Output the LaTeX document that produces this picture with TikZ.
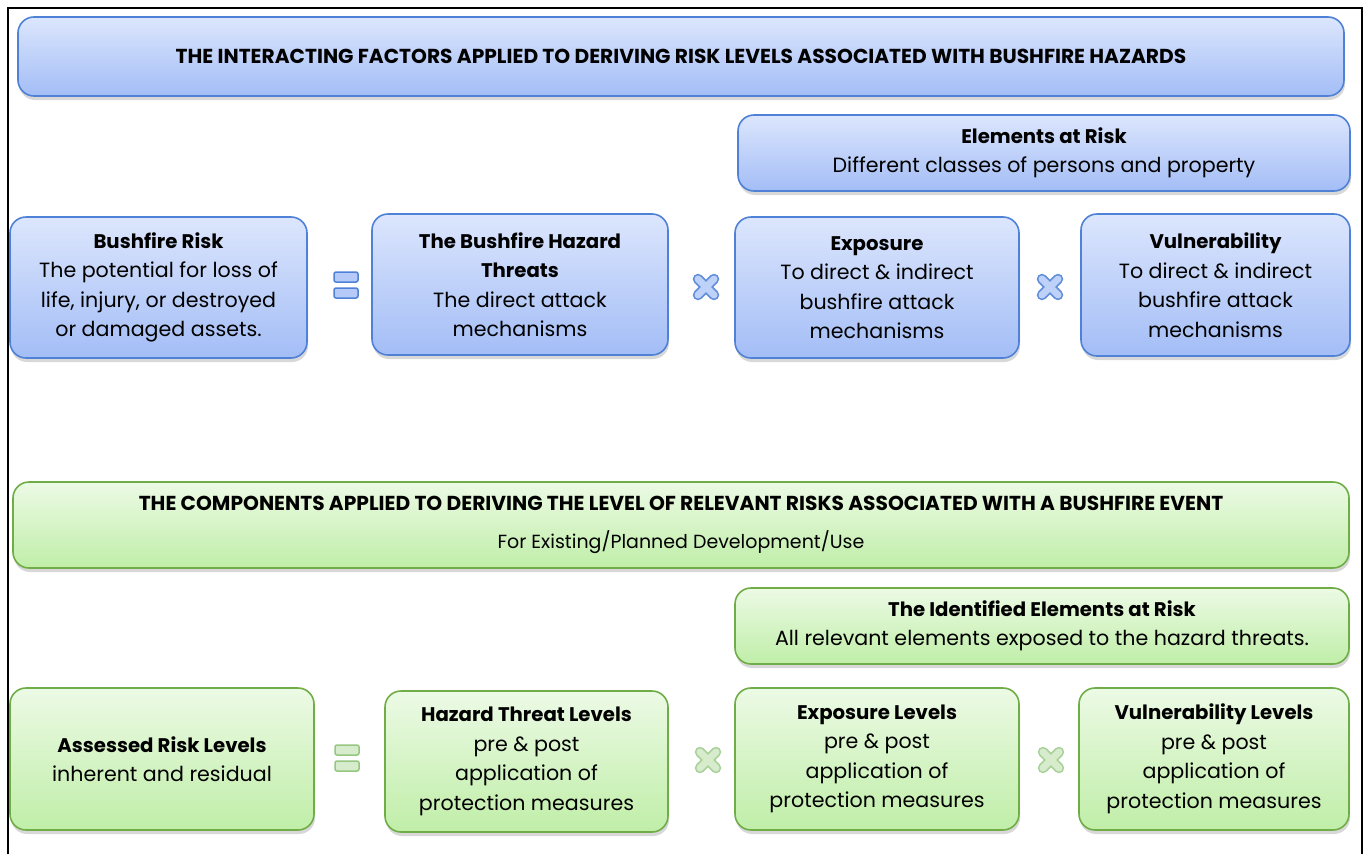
\documentclass[tikz,border=0pt]{standalone}
\usepackage{fontspec}
\setmainfont{Poppins}
\usetikzlibrary{shadows}
\definecolor{bborder}{RGB}{79,129,214}
\definecolor{btop}{RGB}{220,230,253}
\definecolor{bbot}{RGB}{163,189,246}
\definecolor{gborder}{RGB}{112,173,71}
\definecolor{gtop}{RGB}{236,250,229}
\definecolor{gbot}{RGB}{192,238,168}
\definecolor{gicon}{RGB}{214,236,204}
\definecolor{giconb}{RGB}{150,198,128}
\newcommand{\hd}[1]{{\fontsize{19.7}{29.5}\selectfont\bfseries #1}}
\tikzset{
  box/.style={rectangle, rounded corners=16pt, line width=1.6pt, inner sep=0pt, align=center,
    font=\fontsize{20.6}{29.5}\selectfont,
    drop shadow={shadow xshift=1pt, shadow yshift=-4pt, opacity=0.25, fill=black!60}},
  bluebox/.style={box, draw=bborder, top color=btop, bottom color=bbot},
  greenbox/.style={box, draw=gborder, top color=gtop, bottom color=gbot},
  titlefont/.style={font=\fontsize{20.2}{29.5}\selectfont\bfseries},
}
\newcommand{\eqicon}[4]{%
  \begin{scope}[shift={(#1,#2)}]
    \draw[#3, line width=1.5pt, fill=#4, rounded corners=2pt] (-12,-13) rectangle (12,-3);
    \draw[#3, line width=1.5pt, fill=#4, rounded corners=2pt] (-12,3) rectangle (12,13);
  \end{scope}}
\newcommand{\timesicon}[4]{%
  \begin{scope}[shift={(#1,#2)}]
    \draw[#3, line width=10.5pt, line cap=round] (-8,-8) -- (8,8) (-8,8) -- (8,-8);
    \draw[#4, line width=7pt, line cap=round] (-8,-8) -- (8,8) (-8,8) -- (8,-8);
  \end{scope}}
\begin{document}
\begin{tikzpicture}[x=1pt, y=-1pt]
\useasboundingbox (0,0) rectangle (1368,854);
\fill[white] (0,0) rectangle (1368,854);
\draw[line width=2pt] (7.5,854) -- (7.5,7.5) -- (1361.5,7.5) -- (1361.5,854);
% blue section
\node[bluebox, minimum width=1326pt, minimum height=79pt, titlefont] (title1) at (681,56.5)
  {THE INTERACTING FACTORS APPLIED TO DERIVING RISK LEVELS ASSOCIATED WITH BUSHFIRE HAZARDS};
\node[bluebox, minimum width=612pt, minimum height=76pt] (elem) at (1044,153)
  {\hd{Elements at Risk}\\Different classes of persons and property};
\node[bluebox, minimum width=297pt, minimum height=141pt] (risk) at (158.5,287.5)
  {\hd{Bushfire Risk}\\The potential for loss of\\life, injury, or destroyed\\or damaged assets.};
\node[bluebox, minimum width=296pt, minimum height=141pt] (hazard) at (520,284.5)
  {\hd{The Bushfire Hazard}\\\hd{Threats}\\The direct attack\\mechanisms};
\node[bluebox, minimum width=284pt, minimum height=141pt] (expo) at (877,287.5)
  {\hd{Exposure}\\To direct \& indirect\\bushfire attack\\mechanisms};
\node[bluebox, minimum width=269pt, minimum height=142pt] (vuln) at (1215.5,285)
  {\hd{Vulnerability}\\To direct \& indirect\\bushfire attack\\mechanisms};
\eqicon{346}{285}{draw=bborder}{bbot!80!white}
\timesicon{706}{287}{bborder!90!white}{bbot!70!white}
\timesicon{1050}{287}{bborder!90!white}{bbot!70!white}
% green section
\node[greenbox, minimum width=1336pt, minimum height=86pt] (title2) at (681,525)
  {{\fontsize{20.2}{29.5}\selectfont\bfseries THE COMPONENTS APPLIED TO DERIVING THE LEVEL OF RELEVANT RISKS ASSOCIATED WITH A BUSHFIRE EVENT}\\[8pt]
   {\fontsize{19}{29.5}\selectfont For Existing/Planned Development/Use}};
\node[greenbox, minimum width=614pt, minimum height=76pt] (ielem) at (1042,626)
  {\hd{The Identified Elements at Risk}\\All relevant elements exposed to the hazard threats.};
\node[greenbox, minimum width=304pt, minimum height=142pt] (assessed) at (162,759)
  {\hd{Assessed Risk Levels}\\inherent and residual};
\node[greenbox, minimum width=283pt, minimum height=141pt] (hlev) at (526.5,761.5)
  {\hd{Hazard Threat Levels}\\pre \& post\\application of\\protection measures};
\node[greenbox, minimum width=284pt, minimum height=142pt] (elev) at (877,759)
  {\hd{Exposure Levels}\\pre \& post\\application of\\protection measures};
\node[greenbox, minimum width=270pt, minimum height=142pt] (vlev) at (1214,759)
  {\hd{Vulnerability Levels}\\pre \& post\\application of\\protection measures};
\eqicon{347}{758}{draw=giconb}{gicon}
\timesicon{708}{760}{giconb!80!white}{gicon}
\timesicon{1051}{760}{giconb!80!white}{gicon}
\end{tikzpicture}
\end{document}
